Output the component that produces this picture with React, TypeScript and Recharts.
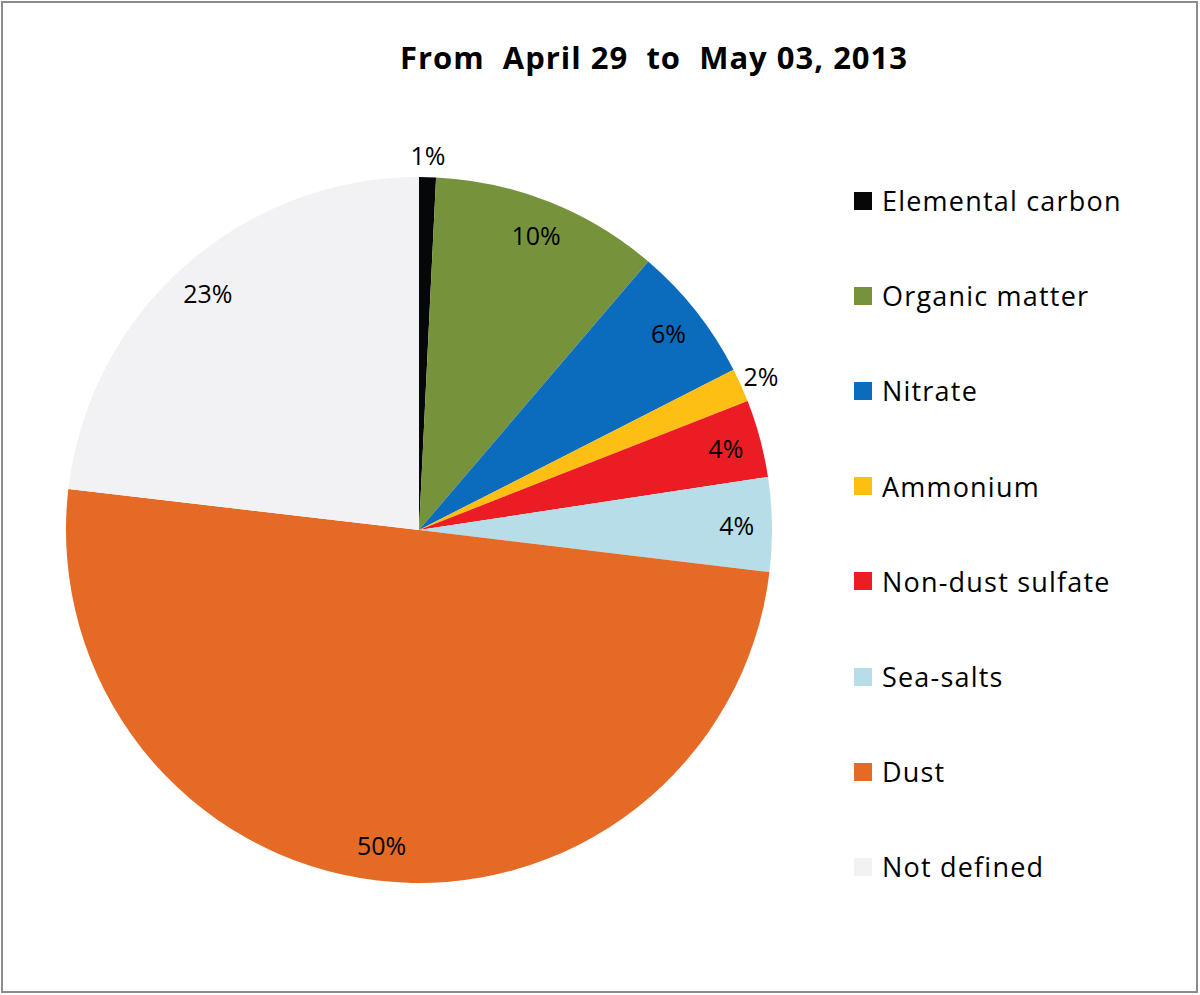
import React from 'react';
import { PieChart, Pie, Cell, Legend } from 'recharts';

const categories = ['Elemental carbon', 'Organic matter', 'Nitrate', 'Ammonium', 'Non-dust sulfate', 'Sea-salts', 'Dust', 'Not defined'];
const shares = [0.77, 10.48, 6.25, 1.55, 3.55, 4.3, 49.95, 23.15];
const colors = ['#050708', '#76933c', '#0b6bbd', '#fdbf13', '#ec1c24', '#b7dee8', '#e46a25', '#f2f2f4'];
const title = 'From\u00a0 April 29\u00a0 to\u00a0 May 03, 2013';

const data = categories.map((name, i) => ({ name, value: shares[i] }));

const RAD = Math.PI / 180;
const FONT = '"Open Sans", "Liberation Sans", sans-serif';

const renderLabel = (props: any) => {
  const { cx, cy, midAngle, outerRadius, value } = props;
  const pct = Math.round(value);
  const outside = value < 2;
  const r = outside ? outerRadius + 22 : outerRadius * 0.9;
  const x = cx + r * Math.cos(-midAngle * RAD);
  const y = cy + r * Math.sin(-midAngle * RAD);
  return (
    <text x={x} y={y} textAnchor="middle" dominantBaseline="central" fill="#000" fontSize={25} fontFamily={FONT}>
      {pct + '%'}
    </text>
  );
};

const renderLegend = () => (
  <div style={{ fontFamily: FONT }}>
    {data.map((d, i) => (
      <div key={d.name} style={{ display: 'flex', alignItems: 'center', height: 95.2 }}>
        <div style={{ width: 18, height: 18, background: colors[i], marginRight: 10 }} />
        <span style={{ fontSize: 27, color: '#000', letterSpacing: 1.2 }}>{d.name}</span>
      </div>
    ))}
  </div>
);

export default function App() {
  return (
    <div style={{ position: 'absolute', left: 0, top: 0, width: 1200, height: 995, background: '#fff' }}>
      <div style={{ position: 'absolute', left: 1, top: 1, width: 1197, height: 992, border: '2px solid #8c8c8c', boxSizing: 'border-box' }} />
      <div style={{ position: 'absolute', left: 0, top: 36, width: 1308, textAlign: 'center', fontFamily: FONT, fontWeight: 700, fontSize: 31, letterSpacing: 1, color: '#000', whiteSpace: 'pre' }}>
        {title}
      </div>
      <div style={{ position: 'absolute', left: 0, top: 0 }}>
        <PieChart width={1200} height={995} margin={{ top: 0, right: 0, bottom: 0, left: 0 }}>
          <Pie
            data={data}
            dataKey="value"
            nameKey="name"
            cx={419}
            cy={530}
            outerRadius={353}
            startAngle={90}
            endAngle={-270}
            stroke="none"
            label={renderLabel}
            labelLine={false}
            isAnimationActive={false}
          >
            {data.map((d, i) => (
              <Cell key={d.name} fill={colors[i]} />
            ))}
          </Pie>
          <Legend
            layout="vertical"
            content={renderLegend}
            wrapperStyle={{ position: 'absolute', left: 854, top: 153, width: 340 }}
          />
        </PieChart>
      </div>
    </div>
  );
}
